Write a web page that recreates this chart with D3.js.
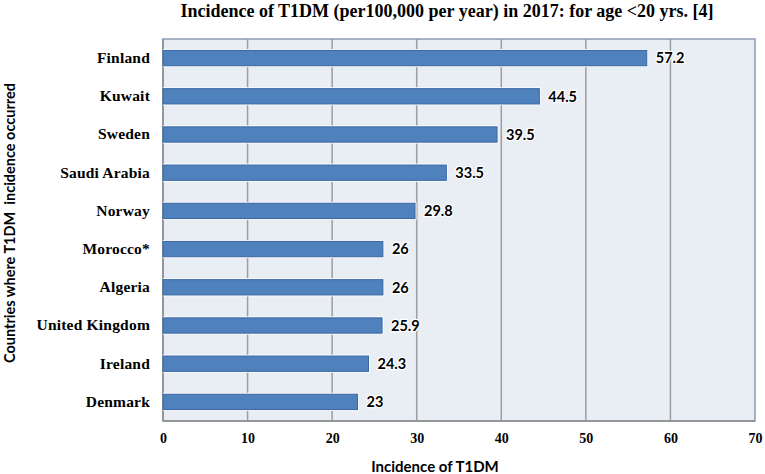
<!DOCTYPE html>
<html>
<head>
<meta charset="utf-8">
<script src="https://cdn.jsdelivr.net/npm/d3@7"></script>
<style>
  html, body { margin: 0; padding: 0; background: #ffffff; }
  svg { display: block; }
</style>
</head>
<body>
<svg id="chart" width="765" height="474"></svg>
<script>
const countries = ["Finland", "Kuwait", "Sweden", "Saudi Arabia", "Norway", "Morocco*", "Algeria", "United Kingdom", "Ireland", "Denmark"];
const incidence = [57.2, 44.5, 39.5, 33.5, 29.8, 26, 26, 25.9, 24.3, 23];
const xTicks = [0, 10, 20, 30, 40, 50, 60, 70];
const titleText = "Incidence of T1DM (per100,000 per year) in 2017: for age <20 yrs. [4]";
const xTitle = "Incidence of T1DM";
const yTitle = "Countries where T1DM  incidence occurred";

const data = countries.map((c, i) => ({ country: c, value: incidence[i] }));

const svg = d3.select("#chart");
const m = { left: 163, right: 755, top: 39, bottom: 421 };

const x = d3.scaleLinear().domain([0, 70]).range([m.left, m.right]);
const y = d3.scaleBand().domain(countries).range([m.top, m.bottom]).paddingInner(0.6).paddingOuter(0.3);

// plot background
svg.append("rect")
  .attr("x", m.left).attr("y", m.top)
  .attr("width", m.right - m.left).attr("height", m.bottom - m.top)
  .attr("fill", "#E9EDF4");

// vertical gridlines
svg.append("g")
  .selectAll("line")
  .data(xTicks.filter(t => t > 0 && t < 70))
  .join("line")
  .attr("x1", d => x(d)).attr("x2", d => x(d))
  .attr("y1", m.top).attr("y2", m.bottom)
  .attr("stroke", "#9d9d9d")
  .attr("stroke-width", 1.5);

// plot border
svg.append("rect")
  .attr("x", m.left).attr("y", m.top)
  .attr("width", m.right - m.left).attr("height", m.bottom - m.top)
  .attr("fill", "none")
  .attr("stroke", "#8a9ab5")
  .attr("stroke-width", 1.5);

// left & bottom axis lines
svg.append("line")
  .attr("x1", m.left).attr("x2", m.left).attr("y1", m.top).attr("y2", m.bottom)
  .attr("stroke", "#8c8c8c").attr("stroke-width", 1.5);
svg.append("line")
  .attr("x1", m.left).attr("x2", m.right).attr("y1", m.bottom).attr("y2", m.bottom)
  .attr("stroke", "#8c8c8c").attr("stroke-width", 1.5);

// bar glow
svg.append("g")
  .selectAll("rect")
  .data(data)
  .join("rect")
  .attr("x", x(0))
  .attr("y", d => y(d.country) - 1.5)
  .attr("width", d => x(d.value) - x(0) + 1.5)
  .attr("height", y.bandwidth() + 3)
  .attr("fill", "#f7f9fc");

// bars
svg.append("g")
  .selectAll("rect")
  .data(data)
  .join("rect")
  .attr("x", x(0))
  .attr("y", d => y(d.country))
  .attr("width", d => x(d.value) - x(0))
  .attr("height", y.bandwidth())
  .attr("fill", "#4F81BD")
  .attr("stroke", "#3A68A2")
  .attr("stroke-width", 1);

// value labels
svg.append("g")
  .selectAll("text")
  .data(data)
  .join("text")
  .attr("x", d => x(d.value) + 9)
  .attr("y", d => y(d.country) + y.bandwidth() / 2)
  .attr("dy", "0.36em")
  .attr("font-family", "Lato, 'Open Sans', sans-serif")
  .attr("font-weight", "bold")
  .attr("font-size", 14.5)
  .attr("fill", "#000")
  .attr("stroke", "#ffffff")
  .attr("stroke-width", 2.5)
  .attr("paint-order", "stroke")
  .text(d => String(d.value));

// category axis
const yAxis = d3.axisLeft(y).tickSize(0).tickPadding(13);
const gy = svg.append("g").attr("transform", `translate(${m.left},0)`).call(yAxis);
gy.select(".domain").remove();
gy.selectAll("text")
  .attr("font-family", "'Liberation Serif', 'Times New Roman', serif")
  .attr("font-weight", "bold")
  .attr("font-size", 15.5)
  .attr("letter-spacing", 0.2)
  .attr("fill", "#000");

// x axis
const xAxis = d3.axisBottom(x).tickValues(xTicks).tickSize(0).tickPadding(12).tickFormat(d3.format("d"));
const gx = svg.append("g").attr("transform", `translate(0,${m.bottom})`).call(xAxis);
gx.select(".domain").remove();
gx.selectAll("text")
  .attr("font-family", "'Liberation Serif', 'Times New Roman', serif")
  .attr("font-weight", "bold")
  .attr("font-size", 14)
  .attr("fill", "#000");

// title
svg.append("text")
  .attr("x", 447).attr("y", 17)
  .attr("text-anchor", "middle")
  .attr("font-family", "'Liberation Serif', 'Times New Roman', serif")
  .attr("font-weight", "bold")
  .attr("font-size", 18)
  .attr("fill", "#000")
  .text(titleText);

// x title
svg.append("text")
  .attr("x", 435).attr("y", 472)
  .attr("text-anchor", "middle")
  .attr("font-family", "Lato, 'Open Sans', sans-serif")
  .attr("font-weight", "bold")
  .attr("font-size", 15)
  .attr("fill", "#000")
  .text(xTitle);

// y title
svg.append("text")
  .attr("transform", "translate(15,223) rotate(-90)")
  .attr("text-anchor", "middle")
  .attr("font-family", "Lato, 'Open Sans', sans-serif")
  .attr("font-weight", "bold")
  .attr("font-size", 14.5)
  .attr("fill", "#000")
  .attr("xml:space", "preserve")
  .style("white-space", "pre")
  .text(yTitle);
</script>
</body>
</html>
